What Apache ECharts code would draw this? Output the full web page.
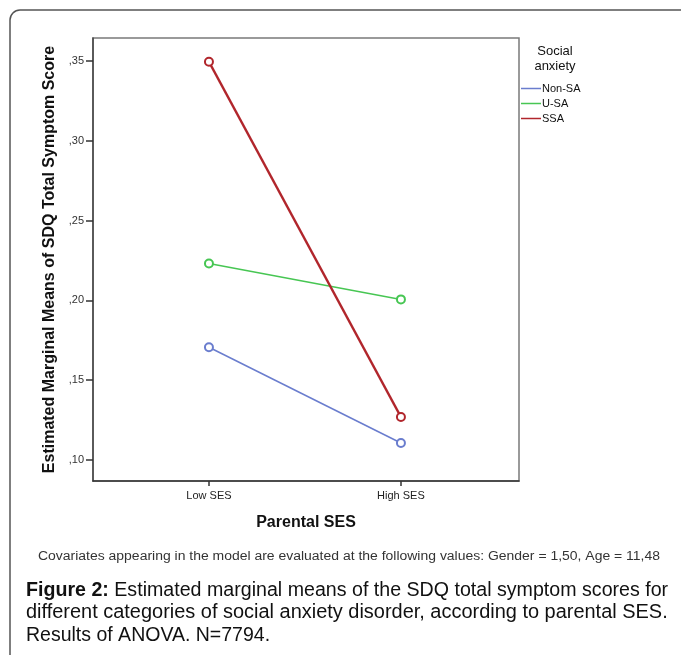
<!DOCTYPE html>
<html>
<head>
<meta charset="utf-8">
<script src="https://cdn.jsdelivr.net/npm/echarts@6/dist/echarts.min.js"></script>
<style>
html,body{margin:0;padding:0;background:#fff;}
#chart{width:681px;height:655px;}
</style>
</head>
<body>
<div id="chart"></div>
<script>
var categories = ['Low SES', 'High SES'];
var seriesNames = ['Non-SA', 'U-SA', 'SSA'];
var nonSA = [0.1706, 0.1106];
var uSA = [0.2231, 0.2006];
var ssa = [0.3495, 0.1269];
var yTicks = [0.10, 0.15, 0.20, 0.25, 0.30, 0.35];
var colors = ['#6a7dce', '#47c653', '#b1262c'];

function pts(vals){ return vals.map(function(v,i){ return [i, v]; }); }

var chart = echarts.init(document.getElementById('chart'));
var font = 'Liberation Sans, Arial, sans-serif';
chart.setOption({
  animation: false,
  backgroundColor: '#fff',
  grid: { left: 93, top: 38, width: 426, height: 443, show: true, borderColor: '#7a7a7a', borderWidth: 1.5 },
  legend: {
    orient: 'vertical', left: 521, top: 82,
    data: seriesNames,
    icon: 'rect', itemWidth: 20, itemHeight: 1.5, itemGap: 2,
    padding: 0,
    textStyle: { fontFamily: font, fontSize: 11, color: '#111', padding: [0,0,0,-4], lineHeight: 13 }
  },
  xAxis: {
    type: 'value', min: -0.604, max: 1.615,
    name: 'Parental SES', nameLocation: 'middle', nameGap: 34,
    nameTextStyle: { fontFamily: font, fontSize: 16, fontWeight: 'bold', color: '#111' },
    splitLine: { show: false },
    axisLine: { show: true, onZero: false, lineStyle: { color: '#333', width: 1.5 } },
    axisTick: { show: true, length: 5, customValues: [0, 1], lineStyle: { color: '#333', width: 1.5 } },
    axisLabel: { customValues: [0, 1], fontFamily: font, fontSize: 11, color: '#222', margin: 9,
      formatter: function(v){ return categories[Math.round(v)] || ''; } }
  },
  yAxis: {
    type: 'value', min: 0.0868, max: 0.3644,
    name: 'Estimated Marginal Means of SDQ Total Symptom Score', nameLocation: 'middle', nameGap: 35,
    nameTextStyle: { fontFamily: font, fontSize: 16, fontWeight: 'bold', color: '#111' },
    splitLine: { show: false },
    axisLine: { show: true, onZero: false, lineStyle: { color: '#444', width: 1.5 } },
    axisTick: { show: true, length: 7, customValues: yTicks, lineStyle: { color: '#333', width: 1.5 } },
    axisLabel: { customValues: yTicks, fontFamily: font, fontSize: 11, color: '#333', margin: 9,
      formatter: function(v){ return ',' + v.toFixed(2).split('.')[1]; } }
  },
  series: [
    { name: seriesNames[0], type: 'line', data: pts(nonSA), symbol: 'emptyCircle', symbolSize: 8,
      itemStyle: { color: colors[0], borderWidth: 1.5 }, lineStyle: { color: colors[0], width: 1.5 } },
    { name: seriesNames[1], type: 'line', data: pts(uSA), symbol: 'emptyCircle', symbolSize: 8,
      itemStyle: { color: colors[1], borderWidth: 1.5 }, lineStyle: { color: colors[1], width: 1.5 } },
    { name: seriesNames[2], type: 'line', data: pts(ssa), symbol: 'emptyCircle', symbolSize: 8,
      itemStyle: { color: colors[2], borderWidth: 1.5 }, lineStyle: { color: colors[2], width: 2.5 } }
  ],
  graphic: [
    { type: 'rect', shape: { x: 10, y: 10, width: 720, height: 700, r: 10 }, style: { fill: 'none', stroke: '#555', lineWidth: 1.5 }, silent: true },
    { type: 'text', x: 555, y: 44, style: { text: 'Social\nanxiety', align: 'center', font: '13px ' + font, fill: '#111', lineHeight: 15 } },
    { type: 'text', x: 38, y: 551, scaleX: 1.163, style: { text: 'Covariates appearing in the model are evaluated at the following values: Gender = 1,50, Age = 11,48', font: '12px ' + font, fill: '#333' } },
    { type: 'text', x: 26, y: 579, scaleX: 1.006, style: {
      text: '{b|Figure 2:} Estimated marginal means of the SDQ total symptom scores for',
      font: '19.5px ' + font, fill: '#111', lineHeight: 22.5,
      rich: { b: { fontWeight: 'bold', fontSize: 19.5, fontFamily: font, fill: '#111' } } } },
    { type: 'text', x: 26, y: 601.5, scaleX: 1.023, style: {
      text: 'different categories of social anxiety disorder, according to parental SES.',
      font: '19.5px ' + font, fill: '#111', lineHeight: 22.5 } },
    { type: 'text', x: 26, y: 624, style: {
      text: 'Results of ANOVA. N=7794.',
      font: '19.5px ' + font, fill: '#111', lineHeight: 22.5 } }
  ]
});
</script>
</body>
</html>
